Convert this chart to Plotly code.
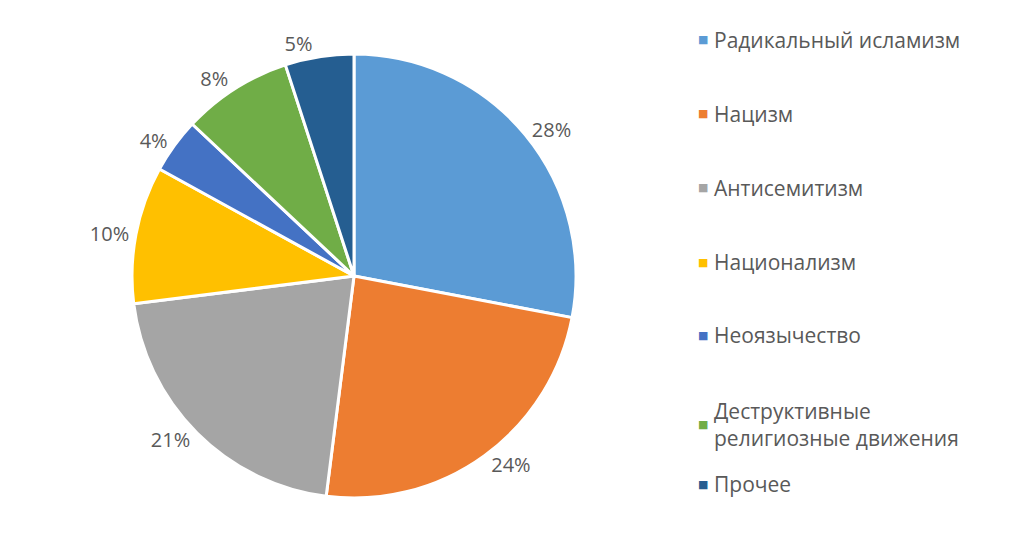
import plotly.graph_objects as go

categories = ["Радикальный исламизм", "Нацизм", "Антисемитизм", "Национализм",
              "Неоязычество", "Деструктивные<br>религиозные движения", "Прочее"]
values = [28, 24, 21, 10, 4, 8, 5]
colors = ["#5B9BD5", "#ED7D31", "#A5A5A5", "#FFC000", "#4472C4", "#70AD47", "#255E91"]

W, H = 1027, 536
OFF = 8  # page offset
FONT = "Open Sans"
TXT = "#595959"

fig = go.Figure(go.Pie(
    labels=categories, values=values, sort=False, direction="clockwise", rotation=0,
    marker=dict(colors=colors, line=dict(color="white", width=3)),
    textinfo="percent", textposition="outside", texttemplate="%{percent:.0%}",
    textfont=dict(family=FONT, size=20, color=TXT),
    domain=dict(x=[(132 - OFF) / W, (576 - OFF) / W],
                y=[1 - (498 - OFF) / H, 1 - (54 - OFF) / H]),
    showlegend=False, automargin=False,
))

# legend drawn as annotations
legend_y = [40, 114, 188, 262, 335, 424, 484]
annotations = []
for cat, col, y in zip(categories, colors, legend_y):
    yy = 1 - (y - OFF) / H
    annotations.append(dict(x=(696 - OFF) / W, y=yy, xref="paper", yref="paper",
                            text="■", showarrow=False, xanchor="left", yanchor="middle",
                            font=dict(family="DejaVu Sans", size=11, color=col)))
    annotations.append(dict(x=(712 - OFF) / W, y=yy, xref="paper", yref="paper",
                            text=cat, showarrow=False, xanchor="left", yanchor="middle",
                            align="left",
                            font=dict(family=FONT, size=21, color=TXT)))

fig.update_layout(width=W, height=H, margin=dict(l=0, r=0, t=0, b=0),
                  paper_bgcolor="white", plot_bgcolor="white",
                  annotations=annotations)
fig.write_html("out.html")
